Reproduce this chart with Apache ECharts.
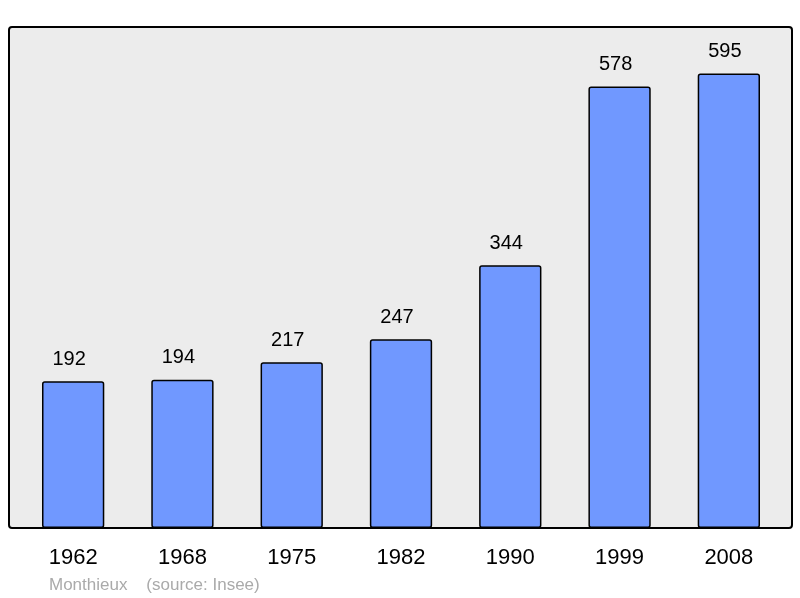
<!DOCTYPE html>
<html><head><meta charset="utf-8">
<script src="https://cdn.jsdelivr.net/npm/echarts@6/dist/echarts.min.js"></script>
<style>html,body{margin:0;padding:0;background:#fff}#c{width:800px;height:598px}</style>
</head><body><div id="c"></div>
<script>
const categories = ['1962','1968','1975','1982','1990','1999','2008'];
const values = [192,194,217,247,344,578,595];
const footer = 'Monthieux    (source: Insee)';
const chart = echarts.init(document.getElementById('c'));
chart.setOption({
  animation:false,
  backgroundColor:'#fff',
  graphic:[
    {type:'rect',z:-10,shape:{x:9,y:27,width:783,height:501,r:3},style:{fill:'#ececec',stroke:'#000',lineWidth:2}},
    {type:'text',left:49,top:577,style:{text:footer,fill:'#aaaaaa',fontSize:17,fontFamily:'Liberation Sans'}}
  ],
  grid:{left:18.5,right:16.5,top:27,bottom:70},
  xAxis:{type:'category',data:categories,axisLine:{show:false},axisTick:{show:false},
    axisLabel:{fontSize:22,color:'#000',margin:19,fontFamily:'Liberation Sans'}},
  yAxis:{type:'value',min:0,max:656,show:false,splitLine:{show:false}},
  series:[{type:'bar',data:values,barWidth:'57%',
    itemStyle:{color:'#7098ff',borderColor:'#000',borderWidth:1.5,borderRadius:2},
    label:{show:true,position:'top',distance:12,offset:[-4,0],fontSize:20,color:'#000',fontFamily:'Liberation Sans'}}]
});
</script></body></html>
